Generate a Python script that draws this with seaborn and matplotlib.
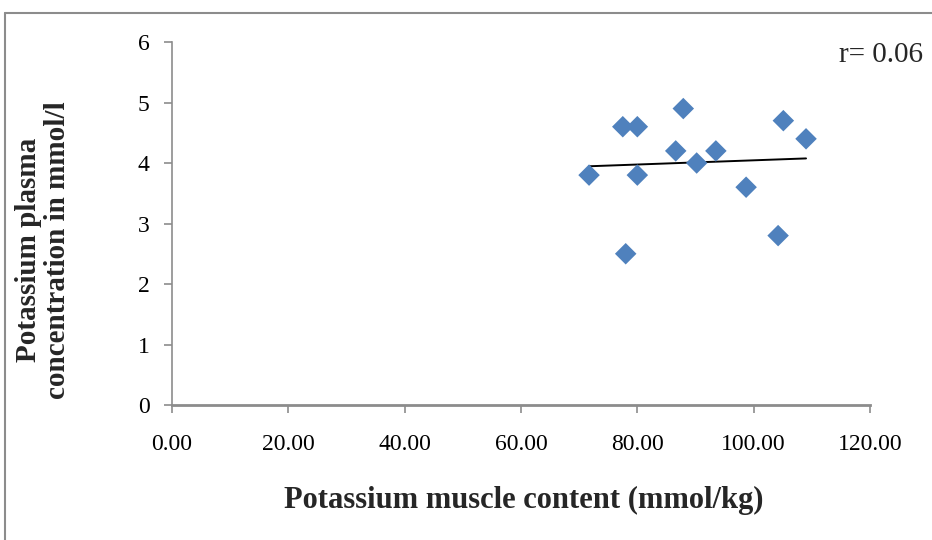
import numpy as np
import pandas as pd
import matplotlib
matplotlib.use("Agg")
import matplotlib.pyplot as plt
from matplotlib.lines import Line2D
from matplotlib.ticker import FormatStrFormatter
import seaborn as sns

# Muscle potassium (mmol/kg) vs plasma potassium (mmol/l)
muscle_k = [71.7, 77.5, 80.0, 87.9, 86.6, 90.2, 93.5, 80.0, 78.0, 98.7, 104.2, 105.1, 109.0]
plasma_k = [3.8, 4.6, 4.6, 4.9, 4.2, 4.0, 4.2, 3.8, 2.5, 3.6, 2.8, 4.7, 4.4]
x_ticks = [0, 20, 40, 60, 80, 100, 120]
y_ticks = [0, 1, 2, 3, 4, 5, 6]
r_label = "r= 0.06"

df = pd.DataFrame({"muscle": muscle_k, "plasma": plasma_k})

sns.set_style("ticks")
plt.rcParams["font.family"] = ["Liberation Serif", "DejaVu Serif"]

fig = plt.figure(figsize=(9.32, 5.40), dpi=100)
ax = fig.add_axes([0.1845, 0.25, 0.749, 0.6722])

sns.scatterplot(data=df, x="muscle", y="plasma", marker="D", s=120,
                color="#4F81BD", edgecolor="none", linewidth=0, ax=ax, zorder=3)
sns.regplot(data=df, x="muscle", y="plasma", scatter=False, ci=None,
            truncate=True, color="black", line_kws={"linewidth": 1.4},
            ax=ax)

ax.set_xlim(0, 120)
ax.set_ylim(0, 6)
ax.set_xticks(x_ticks)
ax.set_yticks(y_ticks)
ax.xaxis.set_major_formatter(FormatStrFormatter("%.2f"))
ax.set_xlabel("")
ax.set_ylabel("")

grey = "#8C8C8C"
for side in ["top", "right"]:
    ax.spines[side].set_visible(False)
ax.spines["left"].set_color(grey)
ax.spines["left"].set_linewidth(1.2)
ax.spines["bottom"].set_color(grey)
ax.spines["bottom"].set_linewidth(2.0)
ax.tick_params(axis="x", direction="out", length=6, width=1.2, color=grey,
               labelsize=17, pad=15, labelcolor="black")
ax.tick_params(axis="y", direction="out", length=6, width=1.2, color=grey,
               labelsize=17, pad=10, labelcolor="black")

fig.text(524 / 932, 1 - 500 / 540, "Potassium muscle content (mmol/kg)",
         ha="center", va="center", fontsize=22, fontweight="bold")
fig.text(43 / 932, 1 - 250 / 540,
         "Potassium plasma\nconcentration in mmol/l",
         ha="center", va="center", rotation=90, fontsize=21,
         fontweight="bold", multialignment="center", linespacing=1.05)
fig.text(881 / 932, 1 - 55 / 540, r_label, ha="center", va="center",
         fontsize=21)

# Frame edges along the top and left of the figure
fig.add_artist(Line2D([5 / 932, 1.0], [1 - 13 / 540, 1 - 13 / 540],
                      transform=fig.transFigure, color=grey, linewidth=1.5))
fig.add_artist(Line2D([5 / 932, 5 / 932], [0.0, 1 - 13 / 540],
                      transform=fig.transFigure, color=grey, linewidth=1.5))

fig.savefig("out.png", dpi=100)
